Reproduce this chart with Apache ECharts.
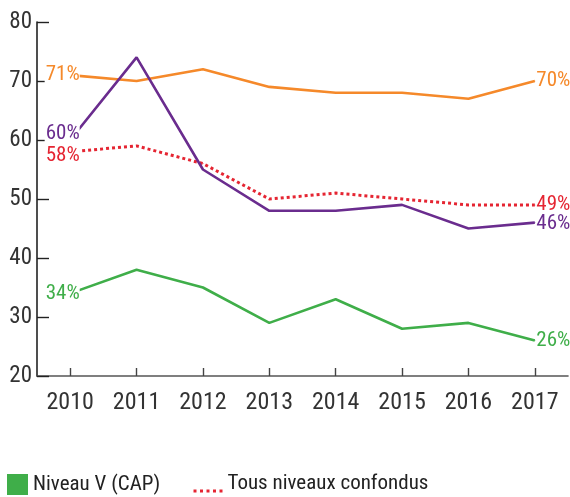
<!DOCTYPE html>
<html>
<head>
<meta charset="utf-8">
<style>
  html, body { margin: 0; padding: 0; background: #ffffff; }
  #chart { width: 570px; height: 497px; }
</style>
<script src="https://cdn.jsdelivr.net/npm/echarts@6/dist/echarts.min.js"></script>
</head>
<body>
<div id="chart"></div>
<script>
// Years on the horizontal axis
const years = ['2010', '2011', '2012', '2013', '2014', '2015', '2016', '2017'];

// Share (%) per level, one array per series
const niveauV = [34, 38, 35, 29, 33, 28, 29, 26];        // Niveau V (CAP)
const tousNiveaux = [58, 59, 56, 50, 51, 50, 49, 49];    // Tous niveaux confondus
const serieOrange = [71, 70, 72, 69, 68, 68, 67, 70];
const serieViolette = [60, 74, 55, 48, 48, 49, 45, 46];

// Vertical axis bounds
const yMin = 20;
const yMax = 80;
const yStep = 10;

const FONT = '"Liberation Sans Narrow", "Roboto Condensed", "DejaVu Sans Condensed", "Arial Narrow", sans-serif';

const COLORS = {
  green: '#3fae49',
  red: '#e52532',
  orange: '#f5892a',
  purple: '#6a2c8e'
};

// First value labelled on the left, last value on the right
function withEndLabels(values, color) {
  const last = values.length - 1;
  return values.map((v, i) => {
    if (i === 0) {
      return {
        value: v,
        label: {
          show: true, position: 'left', distance: -10,
          color: color, fontSize: 21, lineHeight: 16, fontFamily: FONT,
          backgroundColor: '#ffffff', padding: [0, 0, 0, 1],
          formatter: '{c}%'
        }
      };
    }
    if (i === last) {
      return {
        value: v,
        label: {
          show: true, position: 'right', distance: 1,
          color: color, fontSize: 21, lineHeight: 16, fontFamily: FONT,
          formatter: '{c}%'
        }
      };
    }
    return v;
  });
}

function lineSeries(name, values, color, opts) {
  opts = opts || {};
  const last = values.length - 1;
  const startDy = opts.startDy || 0;
  const endDy = opts.endDy || 0;
  return {
    name: name,
    type: 'line',
    data: withEndLabels(values, color),
    // tiny marker, hidden under the stroke, so the end labels have an anchor
    symbol: 'circle',
    symbolSize: 1,
    showSymbol: true,
    showAllSymbol: true,
    z: opts.z || 2,
    color: color,
    itemStyle: { color: color },
    lineStyle: {
      color: color,
      width: opts.width || 2.6,
      type: opts.dash || 'solid'
    },
    emphasis: { disabled: true },
    // nudge end labels apart where two series start close together
    labelLayout: function (params) {
      if (params.dataIndex === 0) return { dy: startDy, hideOverlap: false };
      if (params.dataIndex === last) return { dy: endDy, hideOverlap: false };
      return { hideOverlap: false };
    },
    animation: false
  };
}

const chart = echarts.init(document.getElementById('chart'), null, { renderer: 'canvas' });

chart.setOption({
  backgroundColor: '#ffffff',
  animation: false,
  textStyle: { fontFamily: FONT },
  grid: { left: 37, right: 2, top: 22, bottom: 121, containLabel: false },
  legend: [
    {
      data: [{ name: 'Niveau V (CAP)', icon: 'rect', itemStyle: { color: COLORS.green } }],
      left: 7, top: 474, padding: 0,
      itemWidth: 21, itemHeight: 21,
      textStyle: { fontSize: 21, color: '#222222', fontFamily: FONT },
      selectedMode: false
    },
    {
      // dotted stroke taken from the series line style, sitting on the text baseline
      data: [{ name: 'Tous niveaux confondus', icon: 'inherit' }],
      left: 192, top: 473, padding: 0,
      itemWidth: 29, itemHeight: 3,
      lineStyle: { width: 3, color: COLORS.red, type: [3, 3.5] },
      itemStyle: { color: COLORS.red, opacity: 0 },
      formatter: '{t|{name}}',
      textStyle: {
        fontSize: 21, color: '#222222', fontFamily: FONT,
        rich: { t: { fontSize: 21, lineHeight: 22, color: '#222222', fontFamily: FONT, padding: [0, 0, 15, 0] } }
      },
      selectedMode: false
    }
  ],
  xAxis: {
    type: 'category',
    data: years,
    boundaryGap: true,
    axisLine: { show: true, lineStyle: { color: '#555555', width: 1.6 } },
    axisTick: { show: true, inside: true, length: 8, alignWithLabel: true, lineStyle: { color: '#444444', width: 1.4 } },
    axisLabel: { color: '#333333', fontSize: 24, fontFamily: FONT, margin: 15 },
    splitLine: { show: false }
  },
  yAxis: {
    type: 'value',
    min: yMin, max: yMax, interval: yStep,
    axisLine: { show: true, lineStyle: { color: '#222222', width: 1.6 } },
    axisTick: { show: true, inside: true, length: 12, lineStyle: { color: '#222222', width: 1.4 } },
    axisLabel: { color: '#333333', fontSize: 23, fontFamily: FONT, margin: 5 },
    splitLine: { show: false }
  },
  series: [
    lineSeries('Niveau V (CAP)', niveauV, COLORS.green, { z: 2 }),
    lineSeries('Tous niveaux confondus', tousNiveaux, COLORS.red, { z: 3, dash: [3, 3], width: 3, startDy: 4 }),
    lineSeries('Orange', serieOrange, COLORS.orange, { z: 4 }),
    lineSeries('Violet', serieViolette, COLORS.purple, { z: 5, startDy: -6, endDy: 1 })
  ]
});
</script>
</body>
</html>
